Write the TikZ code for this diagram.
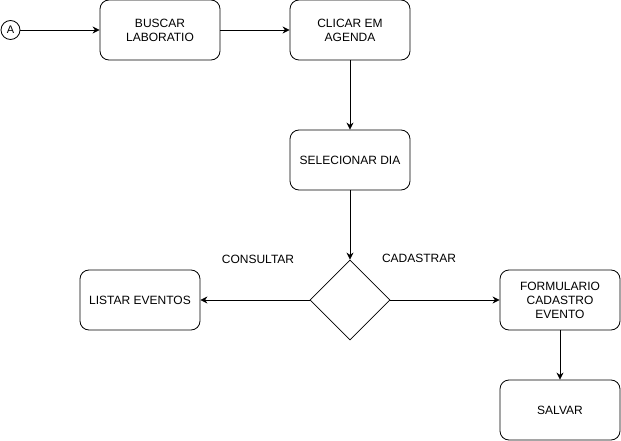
\documentclass[tikz,border=0pt]{standalone}
\usepackage{fontspec}
\setmainfont{Liberation Sans}
\usetikzlibrary{shapes.geometric,arrows.meta}

\tikzset{
	etapa/.style={draw,rounded corners=9pt,minimum width=120pt,minimum height=60pt,align=center,inner sep=2pt},
	decisao/.style={draw,diamond,minimum width=80pt,minimum height=80pt,inner sep=0pt},
	seta/.style={-{Stealth[length=7pt,width=7pt]}}
}

\begin{document}
\begin{tikzpicture}[x=1pt,y=-1pt,line width=0.8pt,font=\fontsize{12}{14}\selectfont]
		\useasboundingbox (0,0) rectangle (621,441);
		% inicio
		\node [draw,circle,minimum size=19pt,inner sep=0pt,font=\fontsize{11}{13}\selectfont] (inicio) at (10.5,30) {A};
		% linha de cima
		\node [etapa] (buscar) at (160,30) {BUSCAR\\LABORATIO};
		\node [etapa] (clicar) at (350,30) {CLICAR EM\\AGENDA};
		\node [etapa] (dia) at (350,160) {SELECIONAR DIA};
		% decisao
		\node [decisao] (escolha) at (350,300) {};
		\node (consultar) at (258,259) {CONSULTAR};
		\node (cadastrar) at (419,258) {CADASTRAR};
		\node [etapa] (listar) at (140,300) {LISTAR EVENTOS};
		\node [etapa] (formulario) at (560,300) {FORMULARIO\\CADASTRO\\EVENTO};
		\node [etapa] (salvar) at (560,410) {SALVAR};
		% ligacoes
		\draw [seta] (inicio) -- (buscar);
		\draw [seta] (buscar) -- (clicar);
		\draw [seta] (clicar) -- (dia);
		\draw [seta] (dia) -- (escolha.north);
		\draw [seta] (escolha.west) -- (listar);
		\draw [seta] (escolha.east) -- (formulario);
		\draw [seta] (formulario) -- (salvar);
\end{tikzpicture}
\end{document}
